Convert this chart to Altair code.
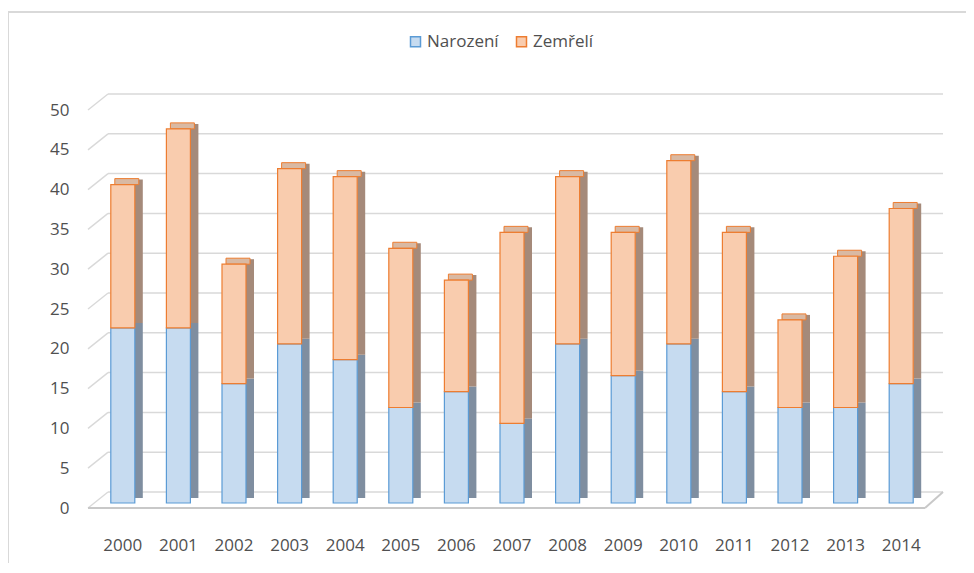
import altair as alt
import pandas as pd

years = ["2000", "2001", "2002", "2003", "2004", "2005", "2006", "2007",
         "2008", "2009", "2010", "2011", "2012", "2013", "2014"]
narozeni = [22, 22, 15, 20, 18, 12, 14, 10, 20, 16, 20, 14, 12, 12, 15]
zemreli = [18, 25, 15, 22, 23, 20, 14, 24, 21, 18, 23, 20, 11, 19, 22]
series_names = ["Narození", "Zemřelí"]
y_ticks = [0, 5, 10, 15, 20, 25, 30, 35, 40, 45, 50]

rows = []
for y, n, z in zip(years, narozeni, zemreli):
    rows.append({"year": y, "series": series_names[0], "lo": 0, "hi": n})
    rows.append({"year": y, "series": series_names[1], "lo": n, "hi": n + z})
df = pd.DataFrame(rows)
tot = pd.DataFrame({"year": years, "total": [n + z for n, z in zip(narozeni, zemreli)]})
grid = pd.DataFrame({"v": y_ticks})
floor_df = pd.DataFrame({"v": [0]})

W, H = 834, 398
FONT = "Open Sans"
TXT = "#505050"
GRID = "#d9d9d9"

yscale = alt.Scale(domain=[0, 50], nice=False, zero=True)
xscale = alt.Scale(domain=years, paddingInner=0, paddingOuter=0)
fill_scale = alt.Scale(domain=series_names, range=["#c6dbf0", "#f9ccae"])
stroke_scale = alt.Scale(domain=series_names, range=["#5b9bd5", "#ed7d31"])

Y_AXIS = alt.Axis(values=y_ticks, domain=False, ticks=False, grid=False,
                  labelPadding=26, labelOffset=5,
                  labelFont=FONT, labelFontSize=17, labelColor=TXT)
X_AXIS = alt.Axis(labelAngle=0, domain=False, ticks=False, labelPadding=34,
                  labelFont=FONT, labelFontSize=17, labelColor=TXT)


def yenc(field):
    return alt.Y(field, scale=yscale, axis=Y_AXIS, title=None)


def xenc():
    return alt.X("year:N", scale=xscale, sort=years, axis=X_AXIS, title=None)


# back-wall gridlines
g_back = alt.Chart(grid).mark_rule(color=GRID, strokeWidth=1.5, yOffset=-11).encode(
    y=yenc("v:Q"), x=alt.value(13), x2=alt.value(848),
)
g_slant = alt.Chart(grid).mark_rule(color=GRID, strokeWidth=1.5, yOffset=5, y2Offset=-11).encode(
    y=yenc("v:Q"), y2="v:Q", x=alt.value(-7), x2=alt.value(13),
)
floor_front = alt.Chart(floor_df).mark_rule(color="#c8c8c8", strokeWidth=2, yOffset=5).encode(
    y=yenc("v:Q"), x=alt.value(-7), x2=alt.value(830),
)
floor_right = alt.Chart(floor_df).mark_rule(color="#c8c8c8", strokeWidth=2, yOffset=5, y2Offset=-11).encode(
    y=yenc("v:Q"), y2="v:Q", x=alt.value(830), x2=alt.value(848),
)

# side faces of the columns
side = alt.Chart(df).mark_bar(width=8, xOffset=16, yOffset=-5, y2Offset=-5).encode(
    x=xenc(), y=yenc("lo:Q"), y2="hi:Q",
    fill=alt.condition(alt.datum.series == series_names[0],
                       alt.value("#7f8ea0"), alt.value("#a58a7a")),
)
# top faces
top = alt.Chart(tot).mark_bar(width=24, xOffset=4, y2Offset=-6, fill="#d9b9a3",
                              stroke="#ed7d31", strokeWidth=1).encode(
    x=xenc(), y=yenc("total:Q"), y2="total:Q",
)
LEG = alt.Legend(orient="none", legendX=312, legendY=-72,
                 direction="horizontal", symbolType="square",
                 symbolSize=100, symbolStrokeWidth=1.5,
                 labelFont=FONT, labelFontSize=17, labelColor=TXT,
                 columnPadding=14, labelOffset=3)
# front faces
front = alt.Chart(df).mark_bar(width=24, strokeWidth=1.2).encode(
    x=xenc(), y=yenc("lo:Q"), y2="hi:Q",
    fill=alt.Fill("series:N", scale=fill_scale, title=None, legend=LEG),
    stroke=alt.Stroke("series:N", scale=stroke_scale, title=None, legend=LEG),
)

# outer chart border (top and left edges)
border_top = alt.Chart(floor_df).mark_rule(color="#d9d9d9", strokeWidth=2).encode(
    x=alt.value(-87), x2=alt.value(W + 40), y=alt.value(-93))
border_left = alt.Chart(floor_df).mark_rule(color="#d9d9d9", strokeWidth=2).encode(
    x=alt.value(-87), y=alt.value(-93), y2=alt.value(H + 62))

chart = alt.layer(
    g_back, g_slant, floor_front, floor_right, side, top, front, border_top, border_left
).properties(
    width=W, height=H,
    autosize=alt.AutoSizeParams(type="none"),
    padding={"left": 87, "top": 97, "right": 37, "bottom": 60},
).configure_view(stroke=None)

chart.save("out.html", embed_options={"renderer": "svg", "actions": False})
